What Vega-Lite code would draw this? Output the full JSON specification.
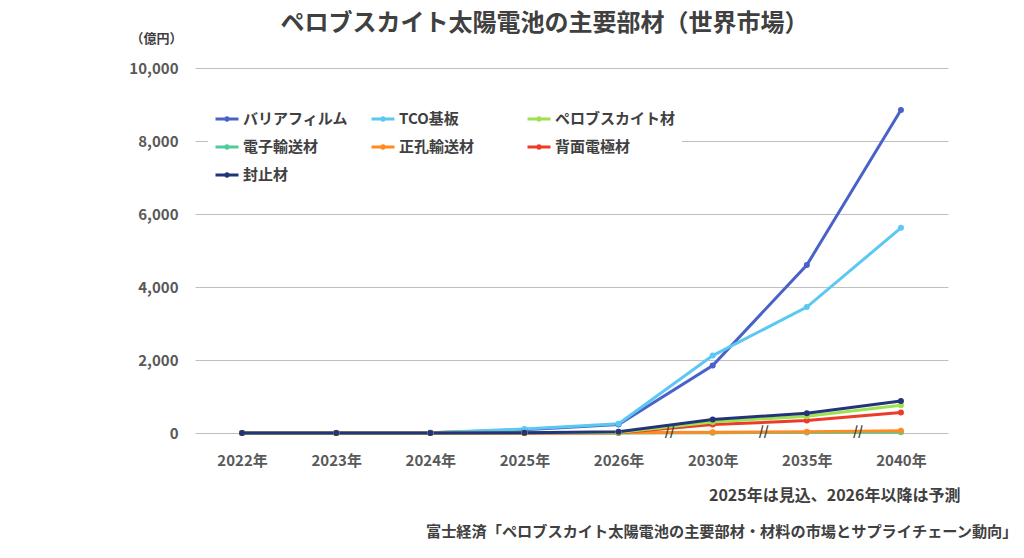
{
  "$schema": "https://vega.github.io/schema/vega-lite/v6.json",
  "width": 753,
  "height": 365,
  "autosize": {"type": "none"},
  "padding": {"left": 195, "top": 68, "right": 76, "bottom": 125},
  "background": "white",
  "config": {
    "font": "Noto Sans CJK JP",
    "view": {"stroke": null}
  },
  "title": {
    "text": "ペロブスカイト太陽電池の主要部材（世界市場）",
    "fontSize": 24,
    "fontWeight": "bold",
    "color": "#404040",
    "anchor": "middle",
    "dx": -27,
    "offset": -4
  },
  "datasets": {
    "market": [
      {"year": "2022年", "material": "バリアフィルム", "value": 2},
      {"year": "2023年", "material": "バリアフィルム", "value": 3},
      {"year": "2024年", "material": "バリアフィルム", "value": 5},
      {"year": "2025年", "material": "バリアフィルム", "value": 90},
      {"year": "2026年", "material": "バリアフィルム", "value": 235},
      {"year": "2030年", "material": "バリアフィルム", "value": 1850},
      {"year": "2035年", "material": "バリアフィルム", "value": 4600},
      {"year": "2040年", "material": "バリアフィルム", "value": 8850},
      {"year": "2022年", "material": "TCO基板", "value": 3},
      {"year": "2023年", "material": "TCO基板", "value": 5},
      {"year": "2024年", "material": "TCO基板", "value": 8},
      {"year": "2025年", "material": "TCO基板", "value": 110},
      {"year": "2026年", "material": "TCO基板", "value": 255},
      {"year": "2030年", "material": "TCO基板", "value": 2120},
      {"year": "2035年", "material": "TCO基板", "value": 3450},
      {"year": "2040年", "material": "TCO基板", "value": 5620},
      {"year": "2022年", "material": "電子輸送材", "value": 0},
      {"year": "2023年", "material": "電子輸送材", "value": 0},
      {"year": "2024年", "material": "電子輸送材", "value": 0},
      {"year": "2025年", "material": "電子輸送材", "value": 1},
      {"year": "2026年", "material": "電子輸送材", "value": 2},
      {"year": "2030年", "material": "電子輸送材", "value": 10},
      {"year": "2035年", "material": "電子輸送材", "value": 15},
      {"year": "2040年", "material": "電子輸送材", "value": 20},
      {"year": "2022年", "material": "正孔輸送材", "value": 0},
      {"year": "2023年", "material": "正孔輸送材", "value": 0},
      {"year": "2024年", "material": "正孔輸送材", "value": 1},
      {"year": "2025年", "material": "正孔輸送材", "value": 2},
      {"year": "2026年", "material": "正孔輸送材", "value": 5},
      {"year": "2030年", "material": "正孔輸送材", "value": 20},
      {"year": "2035年", "material": "正孔輸送材", "value": 35},
      {"year": "2040年", "material": "正孔輸送材", "value": 60},
      {"year": "2022年", "material": "背面電極材", "value": 0},
      {"year": "2023年", "material": "背面電極材", "value": 0},
      {"year": "2024年", "material": "背面電極材", "value": 1},
      {"year": "2025年", "material": "背面電極材", "value": 3},
      {"year": "2026年", "material": "背面電極材", "value": 10},
      {"year": "2030年", "material": "背面電極材", "value": 230},
      {"year": "2035年", "material": "背面電極材", "value": 340},
      {"year": "2040年", "material": "背面電極材", "value": 560},
      {"year": "2022年", "material": "ペロブスカイト材", "value": 0},
      {"year": "2023年", "material": "ペロブスカイト材", "value": 1},
      {"year": "2024年", "material": "ペロブスカイト材", "value": 1},
      {"year": "2025年", "material": "ペロブスカイト材", "value": 5},
      {"year": "2026年", "material": "ペロブスカイト材", "value": 15},
      {"year": "2030年", "material": "ペロブスカイト材", "value": 300},
      {"year": "2035年", "material": "ペロブスカイト材", "value": 460},
      {"year": "2040年", "material": "ペロブスカイト材", "value": 760},
      {"year": "2022年", "material": "封止材", "value": 1},
      {"year": "2023年", "material": "封止材", "value": 1},
      {"year": "2024年", "material": "封止材", "value": 2},
      {"year": "2025年", "material": "封止材", "value": 8},
      {"year": "2026年", "material": "封止材", "value": 35},
      {"year": "2030年", "material": "封止材", "value": 370},
      {"year": "2035年", "material": "封止材", "value": 540},
      {"year": "2040年", "material": "封止材", "value": 875}
    ],
    "breaks": [
      {"year": "2030年", "value": 0, "mark": "//"},
      {"year": "2035年", "value": 0, "mark": "//"},
      {"year": "2040年", "value": 0, "mark": "//"}
    ]
  },
  "resolve": {"axis": {"x": "independent"}},
  "encoding": {
    "y": {
      "field": "value",
      "type": "quantitative",
      "scale": {"domain": [0, 10000], "nice": false},
      "axis": {
        "values": [0, 2000, 4000, 6000, 8000, 10000],
        "labelExpr": "format(datum.value, ',')",
        "labelFontSize": 15,
        "labelFontWeight": "bold",
        "labelColor": "#595959",
        "labelPadding": 17,
        "ticks": false,
        "domain": false,
        "gridColor": "#bfbfbf",
        "gridWidth": 1,
        "title": "（億円）",
        "titleAngle": 0,
        "titleFontSize": 13,
        "titleFontWeight": "bold",
        "titleColor": "#404040",
        "titleAlign": "center",
        "titleBaseline": "middle",
        "titleX": -39,
        "titleY": -30
      }
    }
  },
  "layer": [
    {
      "data": {"name": "market"},
      "mark": {
        "type": "line",
        "strokeWidth": 3,
        "point": {"filled": true, "size": 36}
      },
      "encoding": {
        "x": {
          "field": "year",
          "type": "nominal",
          "scale": {
            "type": "point",
            "padding": 0.5,
            "domain": ["2022年", "2023年", "2024年", "2025年", "2026年", "2030年", "2035年", "2040年"]
          },
          "axis": {
            "labelAngle": 0,
            "labelFontSize": 15,
            "labelFontWeight": "bold",
            "labelColor": "#595959",
            "labelPadding": 20,
            "ticks": false,
            "domain": false,
            "title": "2025年は見込、2026年以降は予測",
            "titleFontSize": 16,
            "titleFontWeight": "bold",
            "titleColor": "#404040",
            "titleAlign": "right",
            "titleAnchor": null,
            "titleBaseline": "middle",
            "titleX": 765,
            "titleY": 62
          }
        },
        "color": {
          "field": "material",
          "type": "nominal",
          "scale": {
            "domain": ["バリアフィルム", "TCO基板", "ペロブスカイト材", "電子輸送材", "正孔輸送材", "背面電極材", "封止材"],
            "range": ["#4a61c8", "#5bc8f3", "#9de24f", "#50cc9c", "#ff8a20", "#ee3b28", "#233478"]
          },
          "legend": {
            "title": null,
            "orient": "none",
            "legendX": 13,
            "legendY": 32,
            "direction": "horizontal",
            "columns": 3,
            "gridAlign": "all",
            "columnPadding": 1,
            "rowPadding": 7,
            "padding": 6,
            "fillColor": "white",
            "labelFontSize": 15,
            "labelFontWeight": "bold",
            "labelColor": "#404040",
            "labelOffset": 3,
            "labelLimit": 200,
            "symbolType": "M-1,0H1M-0.1,0a0.1,0.1 0 1,0 0.2,0a0.1,0.1 0 1,0 -0.2,0",
            "symbolSize": 529,
            "symbolStrokeWidth": 3
          }
        }
      }
    },
    {
      "data": {"name": "breaks"},
      "mark": {
        "type": "text",
        "fontSize": 13,
        "fontWeight": "bold",
        "color": "#404040",
        "baseline": "middle",
        "dx": -43,
        "dy": -1
      },
      "encoding": {
        "x": {
          "field": "year",
          "type": "nominal",
          "scale": {
            "type": "point",
            "padding": 0.5,
            "domain": ["2022年", "2023年", "2024年", "2025年", "2026年", "2030年", "2035年", "2040年"]
          },
          "axis": {
            "orient": "top",
            "labels": false,
            "ticks": false,
            "domain": false,
            "grid": false,
            "title": "富士経済「ペロブスカイト太陽電池の主要部材・材料の市場とサプライチェーン動向」",
            "titleFontSize": 15.2,
            "titleFontWeight": "bold",
            "titleColor": "#404040",
            "titleAlign": "right",
            "titleAnchor": null,
            "titleBaseline": "middle",
            "titleX": 822,
            "titleY": 463
          }
        },
        "text": {"field": "mark"}
      }
    }
  ]
}
